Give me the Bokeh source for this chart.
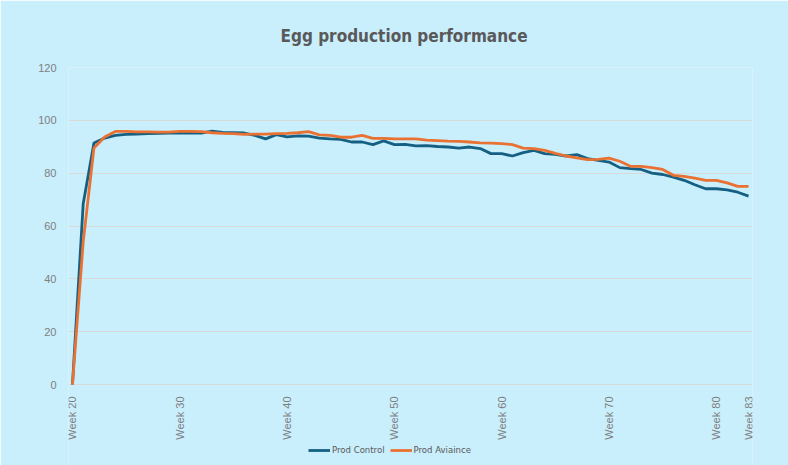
import math
from bokeh.plotting import figure
from bokeh.models import FixedTicker, Range1d, Legend, LegendItem, Title
from bokeh.core.properties import value
from bokeh.embed import file_html
from bokeh.resources import INLINE

weeks = list(range(20, 84))
prod_control = [0, 68.4, 91.4, 93.3, 94.3, 94.7, 94.8, 95.0, 95.1, 95.2,
                95.3, 95.2, 95.2, 95.9, 95.4, 95.3, 95.2, 94.3, 93.0, 94.6,
                93.7, 94.1, 94.0, 93.3, 93.0, 92.8, 91.8, 91.8, 90.8, 92.2,
                90.8, 90.9, 90.3, 90.4, 90.1, 89.9, 89.5, 89.9, 89.3, 87.4,
                87.4, 86.5, 87.8, 88.6, 87.4, 87.1, 86.5, 87.0, 85.5, 84.8,
                84.2, 82.1, 81.7, 81.4, 80.0, 79.5, 78.5, 77.3, 75.6, 74.1,
                74.1, 73.7, 72.8, 71.3]
prod_aviaince = [0, 54.0, 89.5, 93.7, 95.8, 95.8, 95.6, 95.6, 95.5, 95.5,
                 95.8, 95.8, 95.7, 95.3, 95.1, 95.0, 94.7, 94.8, 94.8, 95.0,
                 95.1, 95.3, 95.7, 94.5, 94.3, 93.6, 93.6, 94.3, 93.2, 93.2,
                 93.0, 93.0, 93.0, 92.5, 92.3, 92.1, 92.0, 91.8, 91.5, 91.4,
                 91.2, 90.8, 89.5, 89.3, 88.6, 87.5, 86.5, 85.8, 85.1, 85.2,
                 85.7, 84.5, 82.6, 82.6, 82.1, 81.4, 79.2, 78.8, 78.1, 77.3,
                 77.3, 76.3, 75.0, 75.0]
label_weeks = [20, 30, 40, 50, 60, 70, 80, 83]
week_labels = [f"Week {w}" for w in label_weeks]
y_ticks = [0, 20, 40, 60, 80, 100, 120]
grid_ticks = [0, 20, 40, 60, 80, 100]
series_names = ["Prod Control", "Prod Aviaince"]

BG = "#C9EEFC"
TXT = "#7F7F7F"
C_CTRL = "#156082"
C_AVI = "#E97132"
COND = "'DejaVu Sans Condensed', 'Liberation Sans', sans-serif"

# frame spans below the value axis so that week labels and legend sit inside it
p = figure(width=788, height=465, output_backend="svg", toolbar_location=None,
           x_range=Range1d(19.63, 83.37), y_range=Range1d(-30.66, 120),
           x_axis_location=None)
p.background_fill_color = BG
p.border_fill_color = BG
p.outline_line_color = None
p.min_border_left = 68
p.min_border_right = 36
p.min_border_top = 67
p.min_border_bottom = 0

title = Title(text="Egg production performance", align="left",
              text_font=COND, text_font_size="17px",
              text_font_style="bold", text_color="#595959", standoff=44, offset=212)
p.add_layout(title, "above")

r1 = p.line(weeks, prod_control, line_color=C_CTRL, line_width=2.8)
r2 = p.line(weeks, prod_aviaince, line_color=C_AVI, line_width=2.8)

p.xgrid.grid_line_color = None
p.ygrid.ticker = FixedTicker(ticks=grid_ticks)
p.ygrid.grid_line_color = "#D9D9D9"
p.ygrid.grid_line_width = 1

p.yaxis.ticker = FixedTicker(ticks=y_ticks)
p.yaxis.axis_line_color = None
p.yaxis.major_tick_line_color = None
p.yaxis.minor_tick_line_color = None
p.yaxis.major_label_text_color = TXT
p.yaxis.major_label_text_font = "Liberation Sans"
p.yaxis.major_label_text_font_size = "11px"
p.yaxis.major_label_standoff = 6

# category labels of the week axis, rotated
p.text(x=label_weeks, y=[0] * len(label_weeks), text=week_labels,
       angle=math.pi / 2, text_align="right", text_baseline="middle",
       y_offset=12, text_color=TXT, text_font=value("Liberation Sans"),
       text_font_size=value("11px"))

legend = Legend(items=[LegendItem(label=series_names[0], renderers=[r1]),
                       LegendItem(label=series_names[1], renderers=[r2])],
                orientation="horizontal", location=(240, 10),
                background_fill_alpha=0, border_line_color=None,
                label_text_font=COND, label_text_font_size="9.5px",
                label_text_color="#595959", glyph_width=22, glyph_height=10,
                label_standoff=2, spacing=5, padding=2, margin=0)
p.add_layout(legend, "center")

open("out.html", "w").write(file_html(p, INLINE))
